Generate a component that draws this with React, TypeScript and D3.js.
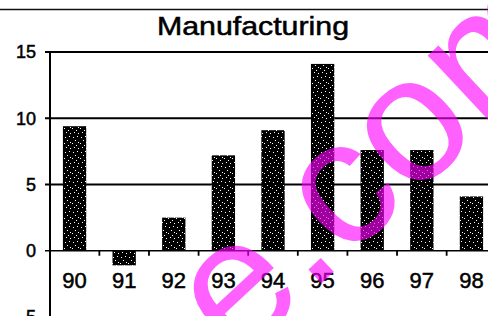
import { useRef, useEffect } from 'react';
import * as d3 from 'd3';

const YEARS = ['90', '91', '92', '93', '94', '95', '96', '97', '98'];
const VALUES = [9.4, -1.1, 2.5, 7.2, 9.1, 14.1, 7.6, 7.6, 4.1];
const Y_TICKS = [-5, 0, 5, 10, 15];
const TITLE = 'Manufacturing';
const WATERMARK = 'e.com';

const WIDTH = 488;
const HEIGHT = 316;
const FONT = '"Liberation Sans", Arial, Helvetica, sans-serif';

// scanned-looking speckle inside the bars
const SPECKS: [number, number][] = [[1, 2], [5, 1], [3, 5], [6, 7], [0, 8], [4, 10], [2, 12], [6, 13]];

export default function App() {
  const svgRef = useRef<SVGSVGElement>(null);

  useEffect(() => {
    if (!svgRef.current) return;
    const svg = d3.select(svgRef.current);
    svg.selectAll('*').remove();

    const x = d3.scaleBand<string>().domain(YEARS).range([50, 496]).paddingInner(0.53).paddingOuter(0.26);
    const y = d3.scaleLinear().domain([-5, 15]).range([317, 52]);

    const defs = svg.append('defs');
    const pat = defs.append('pattern')
      .attr('id', 'speck')
      .attr('width', 8).attr('height', 15)
      .attr('patternUnits', 'userSpaceOnUse');
    pat.append('rect').attr('width', 8).attr('height', 15).attr('fill', '#000');
    pat.selectAll('rect.s')
      .data(SPECKS)
      .join('rect')
      .attr('class', 's')
      .attr('x', (d) => d[0]).attr('y', (d) => d[1])
      .attr('width', 1).attr('height', 1)
      .attr('fill', '#fff');

    svg.append('rect').attr('width', WIDTH).attr('height', HEIGHT).attr('fill', '#fff');

    // frame line across the top
    svg.append('line')
      .attr('x1', 0).attr('x2', WIDTH)
      .attr('y1', 9.5).attr('y2', 9.5)
      .attr('stroke', '#111').attr('stroke-width', 1.6);

    // title
    svg.append('text')
      .attr('x', 253).attr('y', 35)
      .attr('text-anchor', 'middle')
      .attr('font-family', FONT)
      .attr('font-size', 25)
      .attr('textLength', 192)
      .attr('lengthAdjust', 'spacingAndGlyphs')
      .attr('fill', '#000')
      .attr('stroke', '#000').attr('stroke-width', 0.5)
      .text(TITLE);

    // gridlines
    svg.append('g')
      .selectAll('line')
      .data(Y_TICKS.filter((t) => t > 0))
      .join('line')
      .attr('x1', 45).attr('x2', WIDTH)
      .attr('y1', (d) => y(d)).attr('y2', (d) => y(d))
      .attr('stroke', '#000').attr('stroke-width', 1.8);

    // bars
    svg.append('g')
      .selectAll('rect')
      .data(VALUES)
      .join('rect')
      .attr('x', (_, i) => x(YEARS[i])!)
      .attr('width', x.bandwidth())
      .attr('y', (d) => y(Math.max(0, d)))
      .attr('height', (d) => Math.abs(y(d) - y(0)))
      .attr('fill', 'url(#speck)');

    // zero line
    svg.append('line')
      .attr('x1', 45).attr('x2', WIDTH)
      .attr('y1', y(0)).attr('y2', y(0))
      .attr('stroke', '#000').attr('stroke-width', 1.6);

    // category ticks
    svg.append('g')
      .selectAll('line')
      .data(YEARS.slice(1))
      .join('line')
      .attr('x1', (d) => x(d)! - (x.step() - x.bandwidth()) / 2)
      .attr('x2', (d) => x(d)! - (x.step() - x.bandwidth()) / 2)
      .attr('y1', y(0)).attr('y2', y(0) + 5)
      .attr('stroke', '#000').attr('stroke-width', 1.8);

    // y axis line
    svg.append('line')
      .attr('x1', 50).attr('x2', 50)
      .attr('y1', y(15)).attr('y2', HEIGHT)
      .attr('stroke', '#000').attr('stroke-width', 2);

    // y labels
    svg.append('g')
      .selectAll('text')
      .data(Y_TICKS)
      .join('text')
      .attr('x', 36)
      .attr('y', (d) => y(d))
      .attr('dy', '0.35em')
      .attr('text-anchor', 'end')
      .attr('font-family', FONT)
      .attr('font-size', 18)
      .attr('fill', '#000')
      .attr('stroke', '#000').attr('stroke-width', 0.5)
      .text((d) => String(d));

    // x labels
    svg.append('g')
      .selectAll('text')
      .data(YEARS)
      .join('text')
      .attr('x', (d) => x(d)! + x.bandwidth() / 2)
      .attr('y', 288)
      .attr('text-anchor', 'middle')
      .attr('font-family', FONT)
      .attr('font-size', 22)
      .attr('fill', '#000')
      .attr('stroke', '#000').attr('stroke-width', 0.5)
      .text((d) => d);

    // watermark
    svg.append('text')
      .attr('transform', 'translate(237,362) rotate(-43)')
      .attr('font-family', FONT)
      .attr('font-size', 178)
      .attr('fill', '#ff00ff')
      .attr('fill-opacity', 0.62)
      .text(WATERMARK);
  }, []);

  return (
    <svg
      ref={svgRef}
      width={WIDTH}
      height={HEIGHT}
      style={{ position: 'absolute', left: 0, top: 0 }}
    />
  );
}
